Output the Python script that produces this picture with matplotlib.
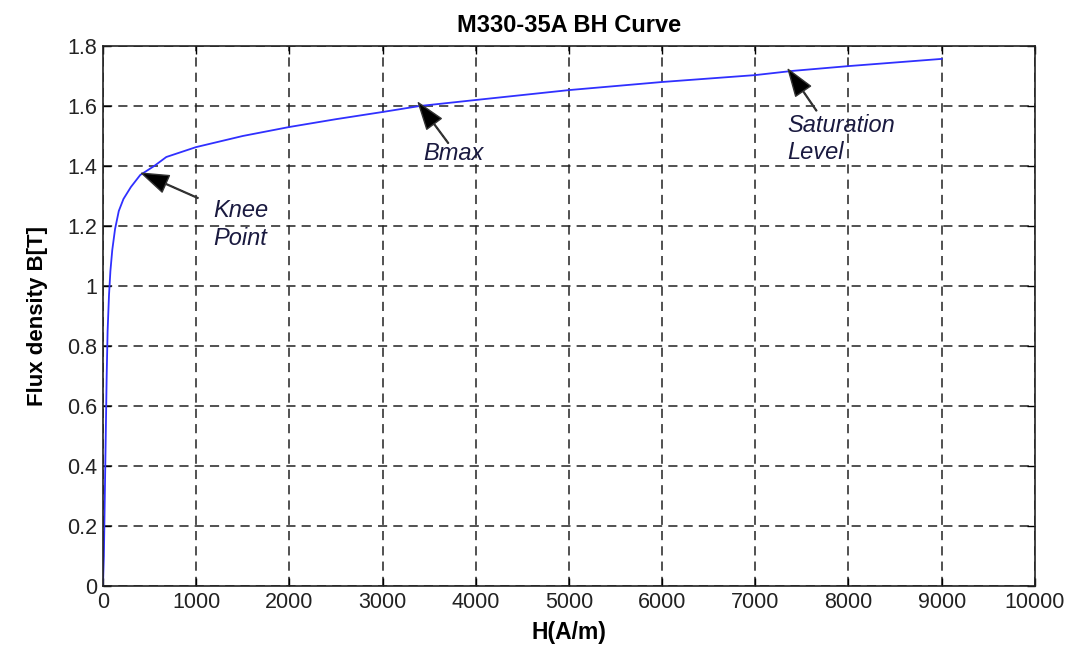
import numpy as np
import matplotlib.pyplot as plt

plt.rcParams['font.family'] = ['Liberation Sans', 'DejaVu Sans']

# --- BH curve data (H in A/m, B in T) ---
H = [0, 10, 20, 30, 40, 50, 65, 80, 100, 130, 170, 220, 300, 400, 550, 680,
     1000, 1500, 2000, 2500, 3000, 3400, 4000, 5000, 6000, 7000, 7400, 8000, 9000]
B = [0, 0.1, 0.3, 0.5, 0.7, 0.85, 0.97, 1.05, 1.12, 1.19, 1.25, 1.29, 1.33, 1.37, 1.40, 1.43,
     1.463, 1.50, 1.530, 1.556, 1.58, 1.60, 1.62, 1.653, 1.68, 1.703, 1.717, 1.733, 1.757]

x_ticks = np.arange(0, 10001, 1000)
y_ticks = [0, 0.2, 0.4, 0.6, 0.8, 1, 1.2, 1.4, 1.6, 1.8]
y_labels = ['0', '0.2', '0.4', '0.6', '0.8', '1', '1.2', '1.4', '1.6', '1.8']

# annotations: label, arrow tip (H, B), arrow tail (H, B), text position (H, B)
notes = [
    ("Knee\nPoint", (415, 1.376), (1020, 1.293), (1180, 1.205)),
    ("Bmax", (3384, 1.611), (3706, 1.476), (3440, 1.443)),
    ("Saturation\nLevel", (7353, 1.722), (7657, 1.584), (7340, 1.49)),
]

fig = plt.figure(figsize=(10.78, 6.46), dpi=100)
ax = fig.add_axes([0.0955, 0.0929, 0.8645, 0.8359])

ax.plot(H, B, color='#3030ff', lw=1.3)

ax.set_xlim(0, 10000)
ax.set_ylim(0, 1.8)
ax.set_xticks(x_ticks)
ax.set_xticklabels([str(v) for v in x_ticks])
ax.set_yticks(y_ticks)
ax.set_yticklabels(y_labels)
ax.tick_params(direction='in', top=True, right=True, length=6, width=1,
               labelsize=15.5, colors='black', labelcolor='#222222', pad=4)
for s in ax.spines.values():
    s.set_linewidth(1.2)
    s.set_color('#222222')

ax.grid(True, color='#222222', linestyle=(0, (6, 4)), linewidth=1.1)

for label, tip, tail, txt in notes:
    ax.annotate('', xy=tip, xytext=tail,
                arrowprops=dict(facecolor='black', edgecolor='#333333',
                                width=0.6, headwidth=13, headlength=19, shrink=0))
    ax.text(txt[0], txt[1], label, fontsize=17, style='italic', color='#1a1a40',
            ha='left', va='center', linespacing=1.25)

ax.set_title("M330-35A BH Curve", fontsize=17, fontweight='bold', pad=10)
ax.set_xlabel("H(A/m)", fontsize=16.5, fontweight='bold', labelpad=6)
ax.set_ylabel("Flux density B[T]", fontsize=16, fontweight='bold', labelpad=14)

fig.savefig("out.png", dpi=100)
